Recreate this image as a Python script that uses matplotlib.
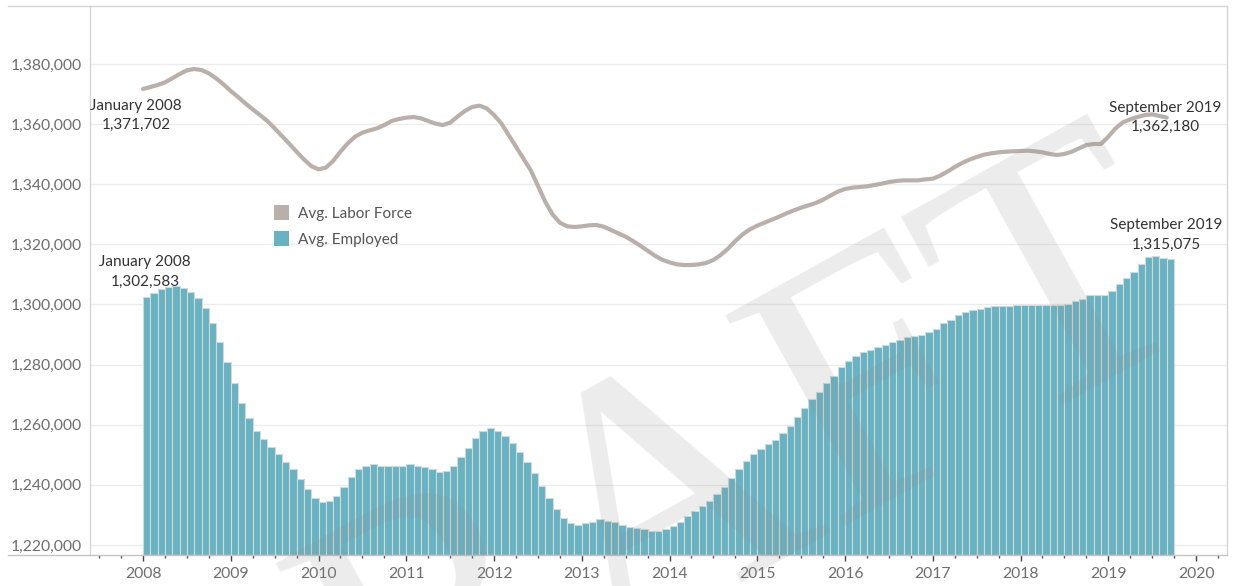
import matplotlib
matplotlib.use("Agg")
import matplotlib.pyplot as plt
from matplotlib.patches import Patch
from matplotlib.lines import Line2D
from matplotlib.ticker import FuncFormatter, MultipleLocator

plt.rcParams['font.family'] = ['Lato', 'DejaVu Sans']

# monthly series, January 2008 .. September 2019
start_year = 2008
employed = [
    1302583, 1303950, 1305150, 1305900, 1306250, 1305400, 1304000, 1302050, 1298730, 1293750, 1287620, 1280970,
    1273780, 1267130, 1262340, 1258010, 1255140, 1252700, 1250260, 1247710, 1245160, 1241840, 1238510, 1235520,
    1234400, 1234730, 1236390, 1239280, 1242710, 1245160, 1246370, 1246810, 1246260, 1246260, 1246260, 1246260,
    1246816, 1246372, 1245818, 1245153, 1244154, 1244598, 1246262, 1249145, 1252140, 1255467, 1257904, 1258904,
    1258017, 1256353, 1253803, 1250920, 1247593, 1243822, 1239608, 1235505, 1231845, 1228850, 1227187, 1226743,
    1227187, 1227520, 1228518, 1228074, 1227631, 1226743, 1225967, 1225634, 1225191, 1224747, 1224747, 1225191,
    1226411, 1227741, 1229738, 1231401, 1232954, 1234728, 1236835, 1239275, 1242158, 1245150, 1248036, 1250143,
    1251807, 1253470, 1255023, 1257130, 1259681, 1262564, 1265558, 1268442, 1270773, 1273765, 1276315, 1279200,
    1281306, 1282859, 1284190, 1284966, 1285742, 1286630, 1287406, 1288290, 1289070, 1289513, 1289957, 1290740,
    1291953, 1293727, 1294950, 1296610, 1297500, 1298280, 1298610, 1299050, 1299500, 1299500, 1299500, 1299700,
    1299940, 1299940, 1299940, 1299940, 1299940, 1299940, 1300160, 1301050, 1301930, 1303150, 1303150, 1303150,
    1304590, 1306710, 1308710, 1310930, 1313370, 1315700, 1316240, 1315560, 1315075,
]
labor_force = [
    1371702, 1372349, 1373014, 1373901, 1375232, 1376673, 1377893, 1378337, 1378004, 1376895, 1375232, 1373236,
    1371018, 1369022, 1366915, 1364919, 1363034, 1361038, 1358598, 1356048, 1353497, 1350836, 1348285, 1346067,
    1344958, 1345513, 1347731, 1350836, 1353608, 1355826, 1357157, 1357933, 1358598, 1359707, 1361038, 1361700,
    1362147, 1362369, 1361925, 1361038, 1360151, 1359707, 1360484, 1362480, 1364365, 1365696, 1366140, 1365252,
    1363034, 1360262, 1356381, 1352500, 1348619, 1344737, 1339525, 1334203, 1329989, 1327217, 1325997, 1325775,
    1325997, 1326330, 1326441, 1325886, 1324777, 1323668, 1322559, 1321117, 1319565, 1317902, 1316238, 1314900,
    1314020, 1313355, 1313133, 1313133, 1313355, 1313798, 1314796, 1316460, 1318567, 1321117, 1323335, 1324999,
    1326219, 1327217, 1328215, 1329213, 1330322, 1331320, 1332207, 1332983, 1333760, 1334869, 1336199, 1337530,
    1338417, 1338861, 1339082, 1339304, 1339748, 1340191, 1340746, 1341078, 1341300, 1341300, 1341300, 1341633,
    1341855, 1342853, 1344183, 1345736, 1347067, 1348176, 1349063, 1349839, 1350283, 1350615, 1350837, 1350948,
    1351059, 1351170, 1350948, 1350615, 1350061, 1349728, 1350061, 1350837, 1351946, 1353055, 1353386, 1353386,
    1355826, 1358598, 1360598, 1361592, 1362369, 1363034, 1363256, 1362701, 1362180,
]
year_ticks = list(range(2008, 2021))
y_ticks = list(range(1220000, 1380001, 20000))

bar_color = '#68b2c1'
line_color = '#b9b0ac'
text_gray = '#6e6e6e'
border = '#d6d6d6'

W, H = 1233, 586
fig = plt.figure(figsize=(W / 100, H / 100), dpi=100)
ax = fig.add_axes([90 / W, (H - 555) / H, (1227 - 90) / W, (555 - 5.7) / H])

y_min, y_max = 1216660, 1399400
x = [start_year + m / 12 for m in range(len(employed))]

ax.bar(x, [v - y_min for v in employed], bottom=y_min, width=1 / 12, align='edge',
       color=bar_color, edgecolor='#d5d8d9', linewidth=0.8, zorder=2)
ax.plot(x, labor_force, color=line_color, linewidth=3.0, solid_capstyle='round',
        solid_joinstyle='round', zorder=3)

ax.set_xlim(2007.396, 2020.353)
ax.set_ylim(y_min, y_max)

ax.set_yticks(y_ticks)
ax.yaxis.set_major_formatter(FuncFormatter(lambda v, p: f'{int(v):,}'))
ax.tick_params(axis='y', length=0, pad=6, labelsize=11.3, labelcolor=text_gray)
ax.grid(axis='y', color='#ececec', linewidth=1)
ax.set_axisbelow(True)

ax.set_xticks(year_ticks)
ax.xaxis.set_minor_locator(MultipleLocator(0.25))
ax.tick_params(axis='x', which='major', length=4, width=1, color='#444444', pad=5,
               labelsize=11.3, labelcolor=text_gray)
ax.tick_params(axis='x', which='minor', length=2, width=1, color='#555555')

for s in ax.spines.values():
    s.set_color(border)
    s.set_linewidth(1)
ax.spines['bottom'].set_color('#c4c4c4')

# worksheet border extending left of the axis
fig.add_artist(Line2D([8 / W, 90 / W], [1 - 5.7 / H, 1 - 5.7 / H], color=border, lw=1))
fig.add_artist(Line2D([8 / W, 90 / W], [1 - 555 / H, 1 - 555 / H], color='#c4c4c4', lw=1))

# end labels
lab_kw = dict(textcoords='offset points', ha='center', va='center', fontsize=11,
              color='#333333', linespacing=1.5, zorder=5)
ax.annotate(f'January 2008\n{labor_force[0]:,}', xy=(x[0], labor_force[0]),
            xytext=(-5, -19), **lab_kw)
ax.annotate(f'January 2008\n{employed[0]:,}', xy=(x[0] + 1 / 24, employed[0]),
            xytext=(-1, 18), **lab_kw)
ax.annotate(f'September 2019\n{labor_force[-1]:,}', xy=(x[-1], labor_force[-1]),
            xytext=(-1, 0), **lab_kw)
ax.annotate(f'September 2019\n{employed[-1]:,}', xy=(x[-1] + 1 / 24, employed[-1]),
            xytext=(-3, 17.5), **lab_kw)

handles = [Patch(facecolor=line_color, edgecolor='none', label='Avg. Labor Force'),
           Patch(facecolor=bar_color, edgecolor='none', label='Avg. Employed')]
leg = ax.legend(handles=handles, loc='upper left', bbox_to_anchor=((274 - 90) / (1227 - 90), (555 - 205) / (555 - 5.7)),
                frameon=False, fontsize=11, handlelength=1.0, handleheight=1.1,
                handletextpad=0.6, labelspacing=0.7, borderpad=0, borderaxespad=0)
for t in leg.get_texts():
    t.set_color('#555555')

# DRAFT watermark
fig.text(680 / W, 1 - 611 / H, 'DRAFT', rotation=29, rotation_mode='anchor',
         ha='center', va='baseline', fontsize=266, family='Liberation Serif',
         color=(0.55, 0.55, 0.55), alpha=0.16, zorder=10)

fig.savefig('out.png', dpi=100)
